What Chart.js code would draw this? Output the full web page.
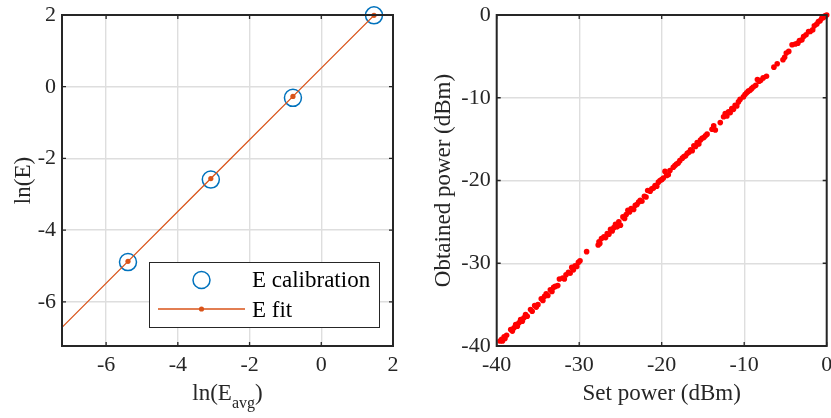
<!DOCTYPE html>
<html>
<head>
<meta charset="utf-8">
<script src="https://cdn.jsdelivr.net/npm/chart.js@4.4.1/dist/chart.umd.min.js"></script>
<style>
  body { margin: 0; background: #fff; }
  #wrap { position: relative; width: 831px; height: 418px; overflow: hidden; }
  canvas { position: absolute; top: 0; }
  #left { left: 0; }
  #right { left: 415px; }
</style>
</head>
<body>
<div id="wrap">
  <canvas id="left" width="415" height="418"></canvas>
  <canvas id="right" width="416" height="418"></canvas>
</div>
<script>
// Left panel: calibration points and linear fit
const calX = [-5.39, -3.08, -0.79, 1.47];
const calY = [-4.89, -2.59, -0.31, 1.99];
const fitX = [-7.23, -5.39, -3.08, -0.79, 1.47];
const fitY = [-6.71, -4.87, -2.56, -0.27, 1.99];
const leftXTicks = [-6, -4, -2, 0, 2];
const leftYTicks = [-6, -4, -2, 0, 2];

// Right panel: set vs obtained power (dBm)
const setPower = [
  -39.6, -39.4, -39.3, -39.1, -39.0, -38.8,
  -38.3, -38.1, -37.9, -37.7, -37.5, -37.3, -37.1, -36.9, -36.7, -36.5, -36.3,
  -35.9, -35.7, -35.4, -35.2, -35.0,
  -34.6, -34.4, -34.2, -34.0, -33.8, -33.5, -33.3, -33.1, -32.9, -32.6, -32.4,
  -32.0, -31.8, -31.6, -31.3, -31.1, -30.9, -30.7, -30.5, -30.3, -30.1, -29.9,
  -29.1,
  -27.7, -27.6, -27.5, -27.3,
  -27.0, -26.8, -26.6, -26.4, -26.2, -26.0, -25.8, -25.6, -25.4, -25.2, -25.0,
  -24.7, -24.5, -24.3, -24.1, -23.9, -23.7, -23.4, -23.2, -23.0, -22.8, -22.6, -22.4, -22.1, -21.9, -21.7,
  -21.4, -21.2, -21.0, -20.8, -20.6, -20.4, -20.2, -20.0, -19.8, -19.6, -19.4, -19.2, -19.0,
  -18.6, -18.4, -18.2, -18.0, -17.8, -17.5, -17.3, -17.1, -16.9,
  -16.7, -16.5, -16.3, -16.1, -15.9, -15.7, -15.5, -15.3, -15.1, -14.9, -14.7, -14.5,
  -13.9, -13.7, -13.5, -12.9,
  -12.5, -12.3, -12.1, -11.9, -11.7, -11.5, -11.3, -11.1, -10.9, -10.7, -10.5,
  -10.1, -9.9, -9.7, -9.5, -9.3, -9.1, -8.9, -8.6, -8.4, -8.2, -8.0, -7.7, -7.3,
  -6.4, -6.0,
  -5.3, -5.1, -4.9, -4.6, -4.2, -3.8, -3.5, -3.3,
  -3.0, -2.8, -2.5, -2.2, -2.0, -1.7, -1.5, -1.2, -1.0, -0.8, -0.6, -0.4, -0.2, 0.0
];
const obtainedPower = [
  -39.4, -39.2, -39.4, -38.9, -39.1, -38.7,
  -38.0, -38.2, -37.8, -37.4, -37.6, -37.2, -36.8, -37.0, -36.6, -36.2, -36.4,
  -35.6, -35.8, -35.1, -35.3, -35.0,
  -34.3, -34.5, -34.0, -33.7, -33.9, -33.2, -33.4, -32.9, -32.8, -32.7, -31.9,
  -31.8, -31.9, -31.4, -31.1, -31.2, -30.5, -30.8, -30.3, -30.4, -29.9, -29.7,
  -28.6,
  -27.8, -27.4, -27.6, -27.0,
  -26.8, -26.9, -26.4, -26.5, -25.9, -26.1, -25.7, -25.3, -25.6, -25.0, -25.4,
  -24.4, -24.6, -24.1, -23.6, -23.8, -23.4, -23.5, -23.0, -22.9, -22.6, -22.4, -22.5, -21.9, -22.0, -21.2,
  -21.3, -21.0, -20.9, -20.6, -20.7, -20.2, -20.0, -19.9, -19.7, -18.9, -19.4, -19.3, -18.8,
  -18.4, -18.2, -18.0, -17.9, -17.6, -17.3, -17.1, -17.0, -16.7,
  -16.6, -16.3, -16.4, -15.8, -15.9, -15.4, -15.6, -15.1, -14.9, -14.8, -14.6, -14.4,
  -13.8, -13.4, -13.9, -13.0,
  -12.3, -11.9, -12.2, -11.7, -11.8, -11.3, -11.4, -10.9, -11.0, -10.5, -10.2,
  -9.9, -9.6, -9.4, -9.2, -9.1, -8.9, -8.7, -8.5, -7.8, -8.0, -7.9, -7.6, -7.4,
  -6.3, -5.9,
  -5.4, -5.1, -4.6, -4.4, -3.6, -3.5, -3.4, -3.1,
  -3.0, -2.6, -2.4, -2.0, -2.0, -1.8, -1.3, -1.1, -0.8, -0.7, -0.4, -0.3, -0.1, 0.0
];
const rightXTicks = [-40, -30, -20, -10, 0];
const rightYTicks = [-40, -30, -20, -10, 0];

const axisColor = '#262626';
const gridColor = '#dedede';
const serif = 'Liberation Serif, Times New Roman, serif';

// draw text made of pieces, some of them subscript
function drawParts(ctx, parts, cx, baseline) {
  let total = 0;
  parts.forEach(p => {
    ctx.font = (p.sub ? 16 : 23) + 'px ' + serif;
    p.w = ctx.measureText(p.text).width;
    total += p.w;
  });
  let x = cx - total / 2;
  parts.forEach(p => {
    ctx.font = (p.sub ? 16 : 23) + 'px ' + serif;
    ctx.fillText(p.text, x, baseline + (p.sub ? 8 : 0));
    x += p.w;
  });
}

// MATLAB style frame, inward ticks and axis titles
const matlabAxes = {
  id: 'matlabAxes',
  afterDatasetsDraw(chart, args, opts) {
    const ctx = chart.ctx;
    const a = chart.chartArea;
    const xs = chart.scales.x, ys = chart.scales.y;
    ctx.save();
    ctx.strokeStyle = axisColor;
    ctx.lineWidth = 1.3;
    ctx.beginPath();
    xs.ticks.forEach(t => {
      const px = xs.getPixelForValue(t.value);
      ctx.moveTo(px, a.bottom); ctx.lineTo(px, a.bottom - 4);
      ctx.moveTo(px, a.top); ctx.lineTo(px, a.top + 4);
    });
    ys.ticks.forEach(t => {
      const py = ys.getPixelForValue(t.value);
      ctx.moveTo(a.left, py); ctx.lineTo(a.left + 4, py);
      ctx.moveTo(a.right, py); ctx.lineTo(a.right - 4, py);
    });
    ctx.stroke();
    ctx.lineWidth = 2;
    ctx.strokeRect(a.left, a.top, a.right - a.left, a.bottom - a.top);

    ctx.fillStyle = axisColor;
    ctx.textAlign = 'left';
    ctx.textBaseline = 'alphabetic';
    drawParts(ctx, opts.xTitle, (a.left + a.right) / 2, 400);

    ctx.translate(opts.yTitleX, (a.top + a.bottom) / 2);
    ctx.rotate(-Math.PI / 2);
    ctx.font = '23px ' + serif;
    ctx.textAlign = 'center';
    ctx.fillText(opts.yTitle, 0, 0);
    ctx.restore();
  }
};

// legend box inside the left axes
const innerLegend = {
  id: 'innerLegend',
  afterDraw(chart, args, opts) {
    if (!opts.show) return;
    const ctx = chart.ctx;
    const ds = chart.data.datasets;
    ctx.save();
    ctx.fillStyle = '#fff';
    ctx.fillRect(149, 262, 230, 65);
    ctx.strokeStyle = axisColor;
    ctx.lineWidth = 1;
    ctx.strokeRect(149.5, 262.5, 230, 65);

    ctx.strokeStyle = ds[0].borderColor;
    ctx.lineWidth = ds[0].borderWidth;
    ctx.beginPath();
    ctx.arc(201.5, 280, ds[0].pointRadius, 0, Math.PI * 2);
    ctx.stroke();

    ctx.strokeStyle = ds[1].borderColor;
    ctx.lineWidth = ds[1].borderWidth;
    ctx.beginPath();
    ctx.moveTo(158, 309); ctx.lineTo(245, 309);
    ctx.stroke();
    ctx.fillStyle = ds[1].borderColor;
    ctx.beginPath();
    ctx.arc(201.5, 309, 2.6, 0, Math.PI * 2);
    ctx.fill();

    ctx.fillStyle = '#000';
    ctx.font = '23px ' + serif;
    ctx.textAlign = 'left';
    ctx.fillText(ds[0].label, 252, 287);
    ctx.fillText(ds[1].label, 252, 316.5);
    ctx.restore();
  }
};

function scaleOpts(min, max, tickList, fitSize, isY) {
  return {
    type: 'linear',
    min: min,
    max: max,
    afterBuildTicks: s => { s.ticks = tickList.map(v => ({ value: v })); },
    afterFit: s => {
      if (isY) s.width = fitSize; else s.height = fitSize;
      // let layout padding alone decide where the plot box sits
      s.paddingTop = 0; s.paddingBottom = 0;
      s.paddingLeft = 0; s.paddingRight = 0;
    },
    border: { display: false },
    grid: { color: gridColor, lineWidth: 1.4, drawTicks: false },
    ticks: {
      color: axisColor,
      font: { family: serif, size: 22 },
      padding: 6,
      maxRotation: 0,
      autoSkip: false
    },
    title: { display: false }
  };
}

const pts = (xs, ys) => xs.map((x, i) => ({ x: x, y: ys[i] }));

new Chart(document.getElementById('left'), {
  type: 'scatter',
  data: {
    datasets: [
      {
        label: 'E calibration',
        data: pts(calX, calY),
        showLine: false,
        pointRadius: 8.5,
        pointHoverRadius: 8.5,
        borderColor: '#0072BD',
        backgroundColor: 'rgba(0,0,0,0)',
        borderWidth: 1.5,
        clip: false,
        order: 2
      },
      {
        label: 'E fit',
        data: pts(fitX, fitY),
        showLine: true,
        borderColor: '#D95319',
        backgroundColor: '#D95319',
        borderWidth: 1.3,
        pointRadius: fitX.map((v, i) => i === 0 ? 0 : 2.6),
        pointBorderWidth: 0,
        clip: false,
        order: 1
      }
    ]
  },
  options: {
    responsive: false,
    animation: false,
    events: [],
    layout: { padding: { left: 0, right: 22, top: 15, bottom: 0 } },
    scales: {
      x: scaleOpts(-7.23, 2, leftXTicks, 72, false),
      y: scaleOpts(-7.23, 2, leftYTicks, 62, true)
    },
    plugins: {
      legend: { display: false },
      tooltip: { enabled: false },
      matlabAxes: {
        xTitle: [{ text: 'ln(E' }, { text: 'avg', sub: true }, { text: ')' }],
        yTitle: 'ln(E)',
        yTitleX: 30
      },
      innerLegend: { show: true }
    }
  },
  plugins: [matlabAxes, innerLegend]
});

new Chart(document.getElementById('right'), {
  type: 'scatter',
  data: {
    datasets: [{
      label: 'Obtained power',
      data: pts(setPower, obtainedPower),
      pointRadius: 2.8,
      pointBorderWidth: 0,
      backgroundColor: '#ff0000',
      borderColor: '#ff0000',
      clip: false
    }]
  },
  options: {
    responsive: false,
    animation: false,
    events: [],
    layout: { padding: { left: 0, right: 4.3, top: 15, bottom: 0 } },
    scales: {
      x: scaleOpts(-40, 0, rightXTicks, 72, false),
      y: scaleOpts(-40, 0, rightYTicks, 81.7, true)
    },
    plugins: {
      legend: { display: false },
      tooltip: { enabled: false },
      matlabAxes: {
        xTitle: [{ text: 'Set power (dBm)' }],
        yTitle: 'Obtained power (dBm)',
        yTitleX: 34.5
      },
      innerLegend: { show: false }
    }
  },
  plugins: [matlabAxes, innerLegend]
});
</script>
</body>
</html>
